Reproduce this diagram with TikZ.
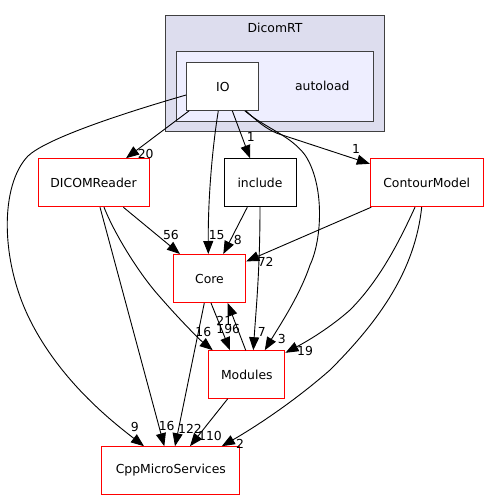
\documentclass[tikz,border=0pt]{standalone}
\usepackage{fontspec}
\setmainfont{DejaVu Sans}
\usetikzlibrary{positioning, arrows.meta}
\definecolor{outerfill}{HTML}{DDDDEE}
\definecolor{innerfill}{HTML}{EEEEFF}
\definecolor{frame}{HTML}{404040}
\definecolor{redline}{HTML}{FF0000}

\begin{document}
\begin{tikzpicture}[x=1pt, y=-1pt, font=\fontsize{12.4}{14}\selectfont,
    dirbox/.style={draw=#1, fill=white, line width=1pt, inner sep=0pt, minimum height=48pt},
    dep/.style={-{Triangle[length=13pt,width=10pt]}, line width=0.9pt, black},
    lbl/.style={inner sep=0pt}]
    \useasboundingbox (0,0) rectangle (488,500);

    % Carpetas (clusters)
    \node[draw=frame, fill=outerfill, line width=1pt, minimum width=218.6pt, minimum height=116pt] (dicomrt) at (275,73.7) {};
    \node[lbl] (dicomrtname) at (275,27.7) {DicomRT};
    \node[draw=frame, fill=innerfill, line width=1pt, minimum width=197.7pt, minimum height=69.6pt] (autoload) at (274.9,86.5) {};
    \node[lbl] (autoloadname) at (322.3,85.7) {autoload};

    % Directorios
    \node[dirbox=frame, minimum width=72.3pt, minimum height=47.6pt] (io) at (222.8,86.5) {IO};
    \node[dirbox=redline, minimum width=111pt] (dicom) at (93.5,182.7) {DICOMReader};
    \node[dirbox=black, minimum width=72pt] (incl) at (260,182.7) {include};
    \node[dirbox=redline, minimum width=112.7pt] (contour) at (426.7,182.7) {ContourModel};
    \node[dirbox=redline, minimum width=72.4pt] (core) at (209.5,278.5) {Core};
    \node[dirbox=redline, minimum width=76.3pt, minimum height=47.6pt] (modules) at (246.8,374.5) {Modules};
    \node[dirbox=redline, minimum width=137.7pt, minimum height=47.6pt] (cppms) at (170.8,470.5) {CppMicroServices};

    % Dependencias desde IO
    \draw[dep] ([yshift=-8.5pt]io.west) .. controls (110,117) and (45,140) .. (28,156)
        .. controls (0,185) and (0,260) .. (30,320)
        .. controls (60,380) and (110,420) .. ([xshift=-26.8pt]cppms.north);
    \node[lbl] (n9) at (134.7,426.7) {9};
    \draw[dep] ([xshift=3pt]io.south west) -- ([xshift=32.5pt]dicom.north);
    \node[lbl] (n20) at (145.7,154) {20};
    \draw[dep] ([xshift=-4.5pt]io.south) .. controls (212,150) and (208,200) .. ([xshift=-1.2pt]core.north);
    \node[lbl] (n15) at (216.7,235) {15};
    \draw[dep] ([xshift=9.5pt]io.south) -- ([xshift=-10pt]incl.north);
    \node[lbl] (n1a) at (250.7,136.7) {1};
    \draw[dep] ([xshift=22pt]io.south) .. controls (265,128) and (290,135) .. (305,155)
        .. controls (325,185) and (322,240) .. (310,265)
        .. controls (300,295) and (280,325) .. ([xshift=18pt]modules.north);
    \node[lbl] (n3) at (281.7,339) {3};
    \draw[dep] ([xshift=23pt]io.south) .. controls (258,122) and (265,128) .. (277,133.3)
        -- ([yshift=-5.6pt]contour.north west);
    \node[lbl] (n1b) at (356,149) {1};

    % Dependencias desde DICOMReader
    \draw[dep] ([xshift=29.8pt]dicom.south) -- ([xshift=-29.5pt]core.north);
    \node[lbl] (n56) at (171,235) {56};
    \draw[dep] ([xshift=10.5pt]dicom.south) .. controls (115,235) and (140,275) .. (160,297)
        .. controls (180,320) and (200,340) .. ([xshift=4.6pt]modules.north west);
    \node[lbl] (n16a) at (203.3,331.7) {16};
    \draw[dep] ([xshift=6.5pt]dicom.south) -- ([xshift=-6.5pt]cppms.north);
    \node[lbl] (n16b) at (166.7,426) {16};

    % Dependencias desde include
    \draw[dep] ([xshift=-12.7pt]incl.south) -- ([xshift=13.8pt]core.north);
    \node[lbl] (n8) at (237.7,240) {8};
    \draw[dep] (incl.south) .. controls (260,270) and (256,310) .. ([xshift=6.5pt]modules.north);
    \node[lbl] (n7) at (261.7,332.3) {7};

    % Dependencias desde ContourModel
    \draw[dep] ([xshift=1.4pt]contour.south west) -- ([yshift=-7.4pt]core.north east);
    \node[lbl] (n72) at (265.7,261.7) {72};
    \draw[dep] ([xshift=-11.7pt]contour.south) .. controls (400,240) and (380,280) .. (350,310)
        .. controls (325,332) and (300,345) .. ([yshift=-2.6pt]modules.north east);
    \node[lbl] (n19) at (305,350.7) {19};
    \draw[dep] ([xshift=-5pt]contour.south) .. controls (415,270) and (380,320) .. (330,370)
        .. controls (290,405) and (250,430) .. ([xshift=51pt]cppms.north);
    \node[lbl] (n2) at (240,444.3) {2};

    % Core y Modules
    \draw[dep] ([xshift=1.5pt]core.south) -- ([xshift=-16.8pt]modules.north);
    \node[lbl] (n196) at (228.3,329) {196};
    \draw[dep] ([xshift=-1.1pt]modules.north) -- ([xshift=18.2pt]core.south);
    \node[lbl] (n21) at (224.3,320.7) {21};
    \draw[dep] ([xshift=-5.2pt]core.south) -- ([xshift=4.2pt]cppms.north);
    \node[lbl] (n122) at (190,429.3) {122};
    \draw[dep] ([xshift=-19.1pt]modules.south) -- ([xshift=19.2pt]cppms.north);
    \node[lbl] (n110) at (210,435.7) {110};
\end{tikzpicture}
\end{document}
